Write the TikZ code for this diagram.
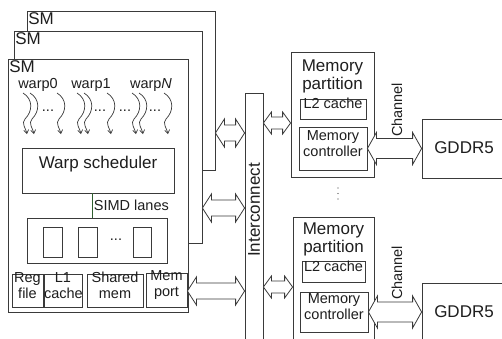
\documentclass[tikz,border=0pt]{standalone}
\usepackage{fontspec}
\setmainfont{Liberation Sans}
\usetikzlibrary{arrows.meta,calc,fit}
\definecolor{linec}{HTML}{3A3A3A}
\definecolor{textc}{HTML}{1E1E1E}
\definecolor{lanec}{HTML}{2E5E2E}
\newcommand\bigf{\fontsize{17}{18}\selectfont}
\newcommand\smf{\fontsize{14.5}{16}\selectfont}
% hollow two-headed block arrow between two points on one row
% #1 left end, #2 right end, #3 shaft half width, #4 head half width, #5 head length
\newcommand\hollowarrow[5]{%
  \draw[hollow] let \p1=(#1), \p2=(#2) in
    (\x1,\y1) -- (\x1+#5,\y1+#4) -- (\x1+#5,\y1+#3) -- (\x2-#5,\y1+#3)
    -- (\x2-#5,\y1+#4) -- (\x2,\y1) -- (\x2-#5,\y1-#4) -- (\x2-#5,\y1-#3)
    -- (\x1+#5,\y1-#3) -- (\x1+#5,\y1-#4) -- cycle;}
\tikzset{
  blk/.style={draw=linec, line width=0.8pt, fill=white, inner sep=0pt, text=textc},
  smlab/.style={anchor=north west, inner sep=1.5pt, text=textc, font=\bigf},
  txt/.style={inner sep=0pt, text=textc},
  hollow/.style={draw=linec, line width=0.8pt, fill=white, line join=miter},
  squig/.pic={\draw[linec, line width=0.7pt, -{Straight Barb[length=3.5pt,width=5pt]}]
      (0,0) .. controls (10,6) and (10,18) .. (2,26) .. controls (-2,30) and (3,36) .. (4,41);},
  dots/.style={txt, font=\smf}
}
\begin{document}
\begin{tikzpicture}[x=1pt,y=-1pt]
\useasboundingbox (0,0) rectangle (502,338);
\clip (0,0) rectangle (502,338);

% three stacked streaming multiprocessors
\node[blk, fit={(27,11) (215,170)}] (smC) {};
\node[smlab] (smClab) at (smC.north west) {SM};
\node[blk, fit={(14,31) (202,243)}] (smB) {};
\node[smlab] (smBlab) at (smB.north west) {SM};
\node[blk, fit={(8,59) (188,312)}] (smA) {};
\node[smlab] (smAlab) at (smA.north west) {SM};

% warps
\node[txt, font=\smf] (w0) at (38,85) {warp0};
\node[txt, font=\smf] (w1) at (91,85) {warp1};
\node[txt, font=\smf] (wN) at (151,85) {warp{\itshape N}};
\foreach \sx in {23,30,57,77,84,107,132,139,164}
  \pic at (\sx,93) {squig};
\foreach \dx [count=\i] in {48,100,125,155}
  \node[dots] (wd\i) at (\dx,111) {...};

% scheduler and SIMD lanes
\node[blk, font=\bigf, fit={(22,148) (174,193)}] (sched) {Warp scheduler};
\node[blk, fit={(27,218) (167,263)}] (simd) {};
\coordinate (gx) at (92,0);
\draw[lanec, line width=0.9pt] (sched.south -| gx) -- (simd.north -| gx)
  node[midway, right=1.5pt, txt, font=\smf] (simdlab) {SIMD lanes};
\node[blk, fit={(43,227) (62,257)}] (lane1) {};
\node[blk, fit={(78,227) (97,257)}] (lane2) {};
\node[dots] (lanedots) at (116,240) {...};
\node[blk, fit={(133,227) (151,257)}] (lane3) {};

% on-chip memories
\node[blk, font=\smf, align=center, fit={(12,274) (43,307)}] (regf) {Reg\\file};
\node[blk, font=\smf, align=center, fit={(44,274) (82,307)}] (l1) {L1\\cache};
\node[blk, font=\smf, align=center, fit={(87,274) (143,307)}] (shm) {Shared\\mem};
\node[blk, font=\smf, align=center, fit={(146,273) (187,307)}] (memp) {Mem\\port};

% interconnect
\node[blk, fit={(245,93) (263,350)}] (ic) {};
\node[txt, font=\bigf, rotate=90] (iclab) at (254,210) {Interconnect};

% memory partitions
\node[blk, fit={(291,52) (374,177)}] (mpA) {};
\node[txt, font=\bigf, align=center, anchor=north] (mpAlab) at ($(mpA.north)+(0,8)$) {Memory\\partition};
\node[blk, font=\smf, fit={(300,99) (366,119)}] (l2A) {L2 cache};
\node[blk, font=\smf, align=center, fit={(299,127) (367,170)}] (mcA) {Memory\\controller};

\node[blk, fit={(293,217) (374,350)}] (mpB) {};
\node[txt, font=\bigf, align=center, anchor=north] (mpBlab) at ($(mpB.north)+(0,6)$) {Memory\\partition};
\node[blk, font=\smf, fit={(302,261) (365,282)}] (l2B) {L2 cache};
\node[blk, font=\smf, align=center, fit={(300,292) (368,332)}] (mcB) {Memory\\controller};

\foreach \dy [count=\i] in {188,193.5,199}
  \fill[linec] (338,\dy) circle (0.7) coordinate (vd\i);

% DRAM
\node[blk, fit={(422,119) (510,178)}] (gA) {};
\node[txt, font=\bigf] (gAlab) at (464,148) {GDDR5};
\node[blk, fit={(422,283) (510,345)}] (gB) {};
\node[txt, font=\bigf] (gBlab) at (464,312) {GDDR5};

% links
\coordinate (r1) at (0,133);
\coordinate (r2) at (0,208);
\coordinate (r3) at (0,291);
\coordinate (r4) at (0,123);
\coordinate (r5) at (0,287);
\hollowarrow{smC.east |- r1}{ic.west |- r1}{8pt}{14pt}{9pt}
\hollowarrow{smB.east |- r2}{ic.west |- r2}{8pt}{14pt}{9pt}
\hollowarrow{memp.east |- r3}{ic.west |- r3}{8pt}{14pt}{9pt}
\hollowarrow{ic.east |- r4}{mpA.west |- r4}{6pt}{11pt}{8pt}
\hollowarrow{ic.east |- r5}{mpB.west |- r5}{6pt}{11pt}{8pt}
\hollowarrow{mcA.east}{gA.west |- mcA.east}{10pt}{16pt}{9pt}
\hollowarrow{mcB.east}{gB.west |- mcB.east}{10pt}{16pt}{9pt}
\node[txt, font=\smf, rotate=90, anchor=west] (chA) at (397,137) {Channel};
\node[txt, font=\smf, rotate=90, anchor=west] (chB) at (397,300) {Channel};
\end{tikzpicture}
\end{document}
